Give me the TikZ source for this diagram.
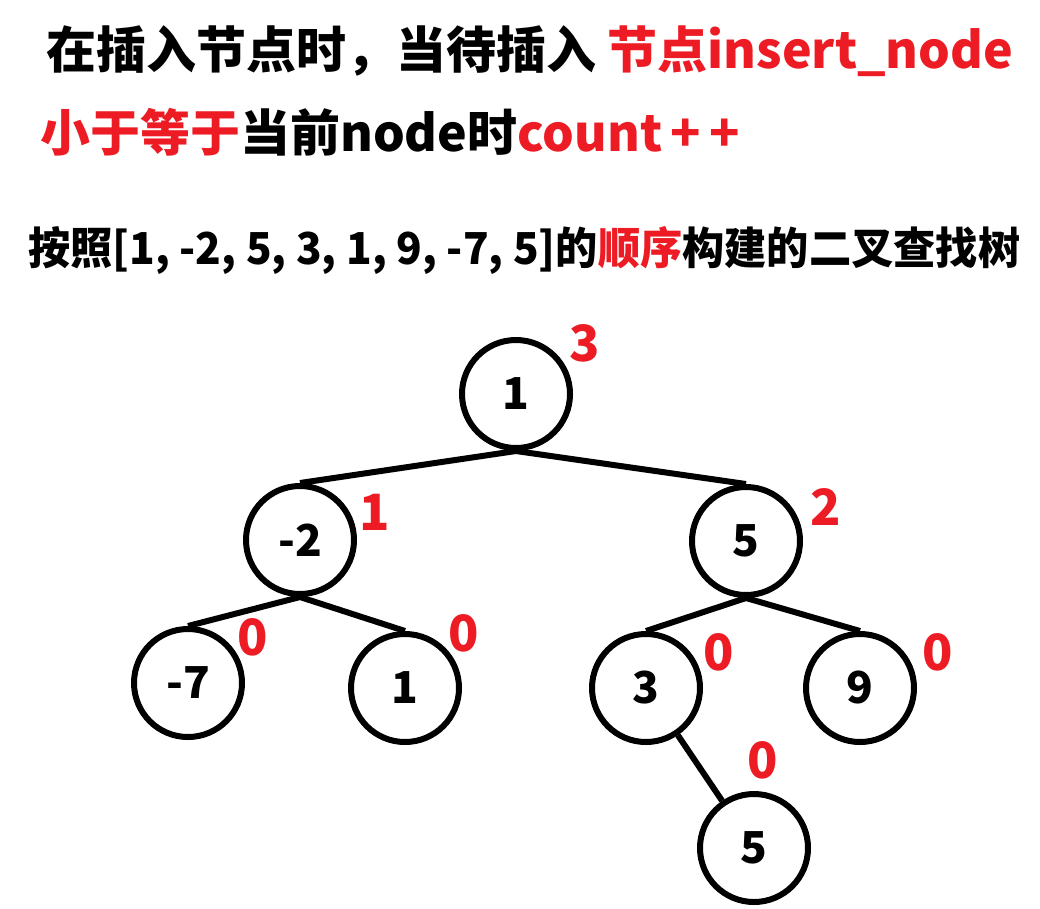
\documentclass[tikz,border=0pt]{standalone}
\usepackage{graphicx}
\usepackage{fontspec}
\setmainfont{Noto Sans CJK SC}
\usetikzlibrary{positioning}

\definecolor{paintred}{RGB}{237,28,36}

\begin{document}
\begin{tikzpicture}[
			x=1pt, y=-1pt,
			bstnode/.style={circle, draw, line width=6pt, minimum size=108pt, inner sep=0pt, font=\fontsize{44}{50}\selectfont\bfseries},
			edge/.style={line width=6pt},
			counter/.style={text=paintred, inner sep=0pt, font=\fontsize{50}{56}\selectfont\bfseries},
			heading/.style={anchor=base west, inner sep=0pt, font=\bfseries}
			]
			\useasboundingbox (0,0) rectangle (1040,908);
			
			% --- TEXTO SUPERIOR ---
			\node[heading, font=\fontsize{50}{60}\selectfont\bfseries] (line1) at (46,68)
			{在插入节点时，当待插入 \textcolor{paintred}{节点insert\_node}};
			\node[heading, font=\fontsize{50}{60}\selectfont\bfseries] (line2) at (40,151)
			{\textcolor{paintred}{小于等于}当前node时\textcolor{paintred}{count\,+\,+}};
			\node[heading, font=\fontsize{44}{52}\selectfont\bfseries] (line3) at (28,264)
			{\resizebox{992pt}{\height}{按照[1, -2, 5, 3, 1, 9, -7, 5]的\textcolor{paintred}{顺序}构建的二叉查找树}};
			
			% --- NODOS DEL ARBOL ---
			\node[bstnode] (k1)  at (516,394) {1};
			\node[bstnode] (km2) at (300,540) {-2};
			\node[bstnode] (k5)  at (746,541) {5};
			\node[bstnode] (km7) at (188,683) {-7};
			\node[bstnode] (k1b) at (405,688) {1};
			\node[bstnode] (k3)  at (646,688) {3};
			\node[bstnode] (k9)  at (860,688) {9};
			\node[bstnode] (k5b) at (754,848) {5};
			
			% Aristas
			\foreach \p/\c in {k1/km2, k1/k5, km2/km7, km2/k1b, k5/k3, k5/k9}
			\draw[edge] (\p.south) -- (\c.north);
			\draw[edge] (k3) -- (k5b);
			
			% Contadores
			\foreach \n/\x/\y/\v in {c1/585/343/3, cm2/375/512/1, c5/826/507/2, cm7/253/637/0,
				c1b/464/633/0, c3/719/652/0, c9/938/652/0, c5b/763/760/0}
			\node[counter] (\n) at (\x,\y) {\v};
			
		\end{tikzpicture}
\end{document}
